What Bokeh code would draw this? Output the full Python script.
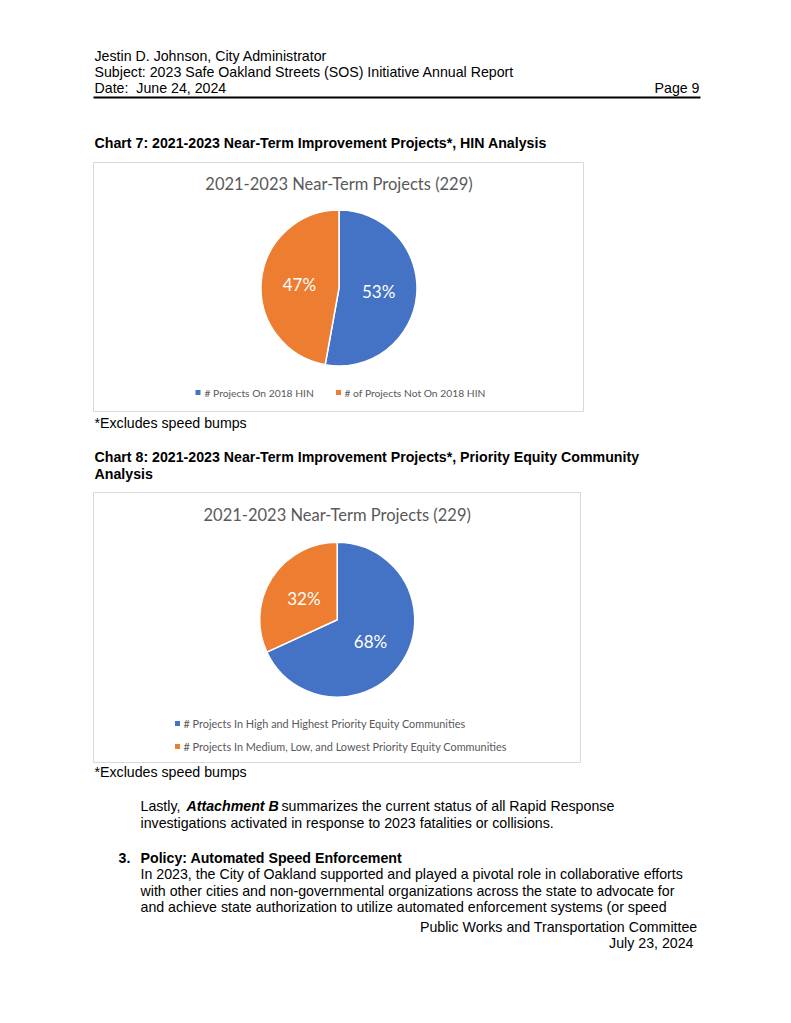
from bokeh.plotting import figure
from bokeh.models import Range1d, Label, ColumnDataSource
from bokeh.embed import file_html
from bokeh.resources import INLINE
from bokeh.core.properties import value
import math

# ---------------- data ----------------
chart_title = "2021-2023 Near-Term Projects (229)"
chart7_labels = ["# Projects On 2018 HIN", "# of Projects Not On 2018 HIN"]
chart7_values = [121, 108]
chart8_labels = ["# Projects In High and Highest Priority Equity Communities",
                 "# Projects In Medium, Low, and Lowest Priority Equity Communities"]
chart8_values = [156, 73]
slice_colors = ["#4472C4", "#ED7D31"]

# ---------------- page ----------------
W, H = 775, 1007
p = figure(width=W, height=H, x_range=Range1d(0, W), y_range=Range1d(0, H),
           output_backend="svg", toolbar_location=None, min_border=0)
p.axis.visible = False
p.grid.visible = False
p.outline_line_color = None
p.background_fill_color = "white"
p.border_fill_color = "white"


def Y(py):
    return H - py


ARIAL = "Liberation Sans"
BODY = 14.2


def txt(x, py, s, size=BODY, style="normal", align="left", color="#000000", font=ARIAL):
    p.add_layout(Label(x=x, y=Y(py), text=s, text_font=font, text_font_size=f"{size}px",
                       text_font_style=style, text_align=align, text_baseline="middle",
                       text_color=color))


# header
txt(94, 55, "Jestin D. Johnson, City Administrator")
txt(94, 71, "Subject: 2023 Safe Oakland Streets (SOS) Initiative Annual Report")
txt(94, 87, "Date:\u00a0 June 24, 2024")
txt(699, 87, "Page 9", align="right")
p.segment(x0=[93], y0=[Y(97)], x1=[700], y1=[Y(97)], line_color="black", line_width=2)

txt(94, 142, "Chart 7: 2021-2023 Near-Term Improvement Projects*, HIN Analysis", style="bold")
txt(94, 422, "*Excludes speed bumps")
txt(94, 456, "Chart 8: 2021-2023 Near-Term Improvement Projects*, Priority Equity Community", style="bold")
txt(94, 473, "Analysis", style="bold")
txt(94, 771, "*Excludes speed bumps")

txt(140, 805, "Lastly,")
txt(186, 805, "Attachment B", style="bold italic")
txt(281, 805, "summarizes the current status of all Rapid Response")
txt(140, 822, "investigations activated in response to 2023 fatalities or collisions.")
txt(118, 857, "3.", style="bold")
txt(140, 857, "Policy: Automated Speed Enforcement", style="bold")
txt(140, 873, "In 2023, the City of Oakland supported and played a pivotal role in collaborative efforts")
txt(140, 890, "with other cities and non-governmental organizations across the state to advocate for")
txt(140, 906, "and achieve state authorization to utilize automated enforcement systems (or speed")
txt(697, 926, "Public Works and Transportation Committee", align="right")
txt(693, 942, "July 23, 2024", align="right")

# ---------------- charts ----------------
CAL = "Lato"


def pie_chart(box, center, radius, title_py, values, labels, legend_rows, legend_size):
    l, t, r, b = box
    p.quad(left=[l], right=[r], top=[Y(t)], bottom=[Y(b)], fill_color="white",
           line_color="#D9D9D9", line_width=1)
    cx, cy = center
    txt(cx, title_py, chart_title, size=16.5, align="center", color="#595959", font=CAL)
    total = float(sum(values))
    fr = [v / total for v in values]
    starts, ends, mids, pcts = [], [], [], []
    cum = 0.0
    for f in fr:
        a0 = math.pi / 2 - 2 * math.pi * (cum + f)
        a1 = math.pi / 2 - 2 * math.pi * cum
        starts.append(a0)
        ends.append(a1)
        mids.append((a0 + a1) / 2)
        pcts.append(f"{round(f * 100)}%")
        cum += f
    src = ColumnDataSource(dict(start=starts, end=ends, color=slice_colors[:len(values)]))
    p.wedge(x=cx, y=Y(cy), radius=radius, start_angle="start", end_angle="end",
            fill_color="color", line_color="white", line_width=1.5, source=src)
    lx = [cx + 0.51 * radius * math.cos(m) for m in mids]
    ly = [Y(cy) + 0.51 * radius * math.sin(m) for m in mids]
    p.text(x=lx, y=ly, text=pcts, text_align="center", text_baseline="middle",
           text_font=value(CAL), text_font_size="17px", text_color="white")
    for (mx, my, tx), lab, col in zip(legend_rows, labels, slice_colors):
        p.rect(x=[mx], y=[Y(my)], width=5, height=5, fill_color=col, line_color=None)
        txt(tx, my, lab, size=legend_size, color="#595959", font=CAL)


pie_chart((93, 162, 583, 411), (338.5, 287.5), 78, 183, chart7_values, chart7_labels,
          [(197.5, 392, 204), (338, 392, 344)], 10.3)
pie_chart((93, 492, 580, 762), (336.7, 619.2), 77.5, 514, chart8_values, chart8_labels,
          [(177, 723, 183), (177, 746, 183)], 10.9)

open("out.html", "w").write(file_html(p, INLINE))
